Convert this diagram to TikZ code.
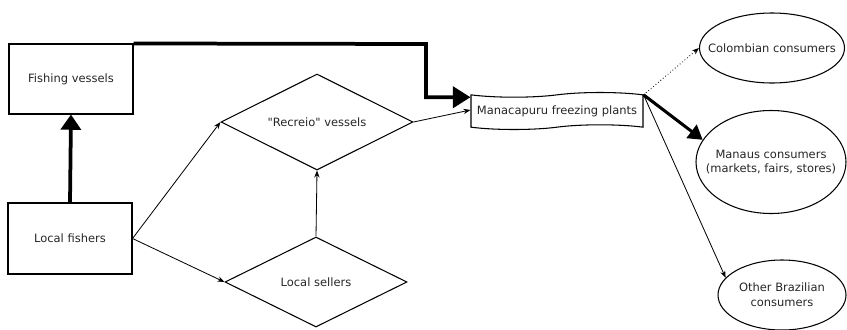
\documentclass[tikz,border=0pt]{standalone}
\usepackage{fontspec}
\setmainfont{DejaVu Sans}
\usetikzlibrary{calc,arrows.meta,shapes.geometric,shapes.symbols}
\tikzset{
	box/.style={draw, line width=0.9pt, inner sep=1pt, align=center, text=black!85, font=\fontsize{9.8}{12.5}\selectfont},
	oval/.style={box, ellipse, inner xsep=-14pt, inner ysep=0pt},
	rhomb/.style={box, diamond, shape aspect=2, inner sep=0pt},
	thinarrow/.style={line width=0.7pt, -{Stealth[length=6pt,width=4.5pt]}},
	fatarrow/.style={line width=3.2pt, -{Triangle[length=13pt,width=17pt]}}
}

\begin{document}
\begin{tikzpicture}[x=0.03cm, y=-0.03cm]
		%%%%% START %%%%%
		\useasboundingbox (0, 0) rectangle (847, 329);
		
		\node[box, minimum width=3.72cm, minimum height=2.1cm] (vessels) at (71, 79) {Fishing vessels};
		\node[box, minimum width=3.72cm, minimum height=2.13cm] (fishers) at (70, 238.5) {Local fishers};
		
		\node[rhomb, minimum width=5.76cm, minimum height=2.88cm] (recreio) at (317, 122) {\textquotedbl Recreio\textquotedbl{} vessels};
		\node[rhomb, minimum width=5.46cm, minimum height=2.7cm] (sellers) at (316, 282) {Local sellers};
		
		\node[box, tape, tape bend height=4pt, minimum width=5.16cm, minimum height=1.11cm] (plants) at (557, 111) {Manacapuru freezing plants};
		
		\node[oval, minimum width=4.35cm, minimum height=2.1cm] (colombia) at (772, 48) {Colombian consumers};
		\node[oval, minimum width=4.5cm, minimum height=3.09cm] (manaus) at (771, 162) {Manaus consumers\\(markets, fairs, stores)};
		\node[oval, minimum width=3.84cm, minimum height=2.1cm] (brazil) at (782, 295) {Other Brazilian\\consumers};
		
		\coordinate (bend) at (426, 44);
		
		\draw[fatarrow] (fishers.north) -- (vessels.south);
		\draw[fatarrow, -{Triangle[length=15pt,width=18pt]}] (vessels.north east) -- (bend) |- ($(plants.north west)+(0, 3)$);
		
		\draw[thinarrow] (fishers.east) -- (recreio.west);
		\draw[thinarrow] (fishers.east) -- (sellers.west);
		\draw[thinarrow] (sellers.north) -- (recreio.south);
		\draw[thinarrow] (recreio.east) -- ($(plants.west)+(0, -1)$);
		
		\draw[line width=0.7pt, dotted, -{Stealth[length=6pt,width=4.5pt]}] (plants.north east) -- (colombia.west);
		\draw[line width=2.6pt, -{Triangle[length=12pt,width=14pt]}] (plants.north east) -- (manaus.162);
		\draw[thinarrow] (plants.north east) -- (brazil.163);
		
		%%%%% END %%%%%
	\end{tikzpicture}
\end{document}
